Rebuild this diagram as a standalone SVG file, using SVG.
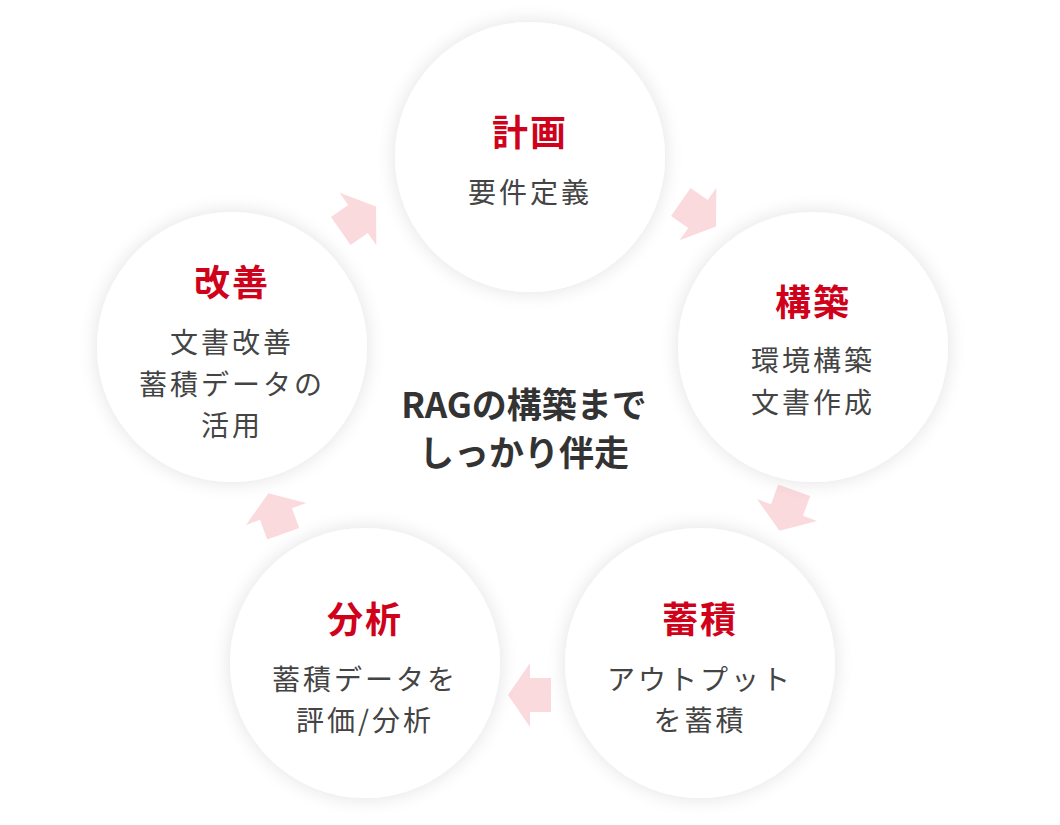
<svg xmlns="http://www.w3.org/2000/svg" width="1060" height="825" viewBox="0 0 1060 825">
<style>
.t{font-family:"Noto Sans CJK JP",sans-serif;font-weight:700;font-size:36px;fill:#d0021b;text-anchor:middle;letter-spacing:2px}
.b{font-family:"Noto Sans CJK JP",sans-serif;font-size:28px;fill:#444;text-anchor:middle;letter-spacing:3px}
.c{font-family:"Noto Sans CJK JP",sans-serif;font-weight:700;font-size:35px;fill:#333;text-anchor:middle}
.circ{fill:#fff;filter:url(#sh)}
.ar{fill:#fbdadd}
</style>
<defs>
<filter id="sh" x="-30%" y="-30%" width="160%" height="160%"><feGaussianBlur in="SourceAlpha" stdDeviation="10"/><feComponentTransfer><feFuncA type="linear" slope="0.12"/></feComponentTransfer><feMerge><feMergeNode/><feMergeNode in="SourceGraphic"/></feMerge></filter>
<path id="arw" d="M-21,-17 L0,-17 L0,-32 L22,0 L0,32 L0,17 L-21,17 Z"/>
</defs>
<rect width="1060" height="825" fill="#fff"/>
<g id="connectors">
<use href="#arw" class="ar" transform="translate(358,219) rotate(-35)"/>
<use href="#arw" class="ar" transform="translate(698,214) rotate(35)"/>
<use href="#arw" class="ar" transform="translate(787,510) rotate(110)"/>
<use href="#arw" class="ar" transform="translate(530,695) rotate(180)"/>
<use href="#arw" class="ar" transform="translate(276,514) rotate(250)"/>
</g>
<g id="plan"><circle class="circ" cx="530" cy="157" r="135"/><text class="t" x="530" y="146">計画</text><text class="b" x="530" y="203">要件定義</text></g>
<g id="build"><circle class="circ" cx="813" cy="347" r="135"/><text class="t" x="813" y="316">構築</text><text class="b" x="813" y="371">環境構築</text><text class="b" x="813" y="413">文書作成</text></g>
<g id="store"><circle class="circ" cx="700" cy="663" r="135"/><text class="t" x="700" y="633">蓄積</text><text class="b" x="700" y="690">アウトプット</text><text class="b" x="700" y="731">を蓄積</text></g>
<g id="analyze"><circle class="circ" cx="365" cy="663" r="135"/><text class="t" x="365" y="633">分析</text><text class="b" x="365" y="690">蓄積データを</text><text class="b" x="365" y="731">評価/分析</text></g>
<g id="improve"><circle class="circ" cx="232" cy="347" r="135"/><text class="t" x="232" y="296">改善</text><text class="b" x="232" y="353">文書改善</text><text class="b" x="232" y="395">蓄積データの</text><text class="b" x="232" y="436">活用</text></g>
<g id="center"><text class="c" x="524" y="418">RAGの構築まで</text><text class="c" x="524" y="466">しっかり伴走</text></g>
</svg>
